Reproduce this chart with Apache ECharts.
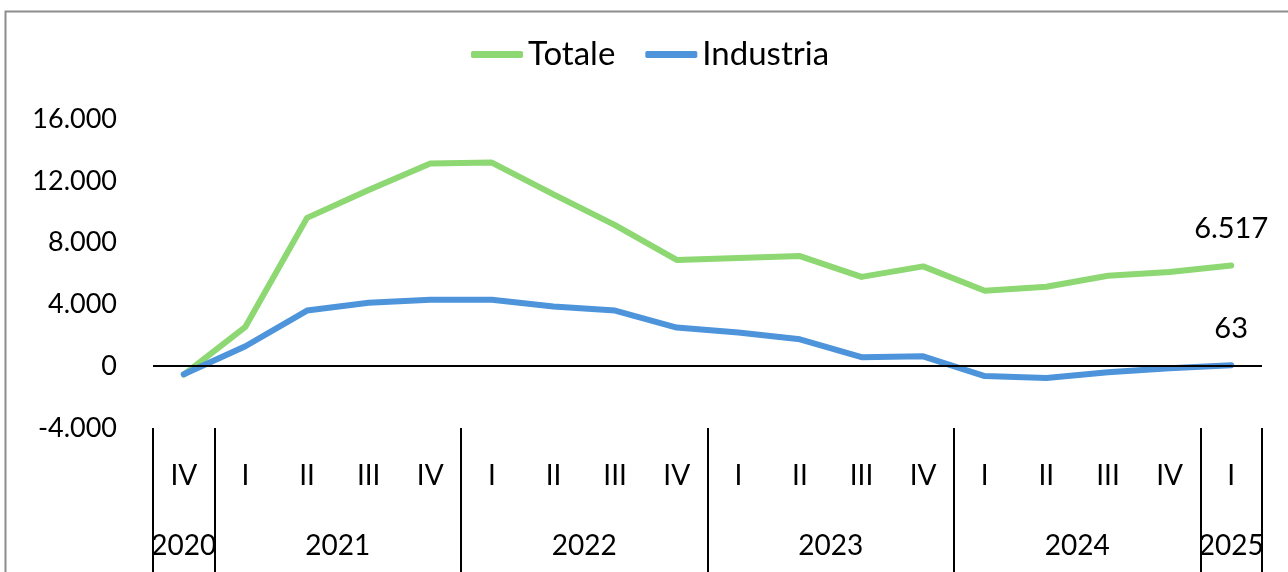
<!DOCTYPE html>
<html>
<head>
<meta charset="utf-8">
<script src="https://cdn.jsdelivr.net/npm/echarts@6/dist/echarts.min.js"></script>
<style>
html,body{margin:0;padding:0;background:#fff;}
#chart{width:1288px;height:572px;}
</style>
</head>
<body>
<div id="chart"></div>
<script>
// ---- data ----
var quarters = ['IV','I','II','III','IV','I','II','III','IV','I','II','III','IV','I','II','III','IV','I'];
var years = ['2020','2021','2022','2023','2024','2025'];
var quartersPerYear = [1,4,4,4,4,1];
var totale = [-550, 2550, 9600, 11400, 13120, 13180, 11120, 9130, 6880, 7000, 7130, 5780, 6460, 4880, 5140, 5850, 6100, 6517];
var industria = [-520, 1290, 3600, 4110, 4300, 4300, 3860, 3600, 2500, 2180, 1740, 580, 640, -640, -770, -390, -130, 63];
var yTicks = {min: -4000, max: 16000, interval: 4000};

function fmt(v){ return String(v).replace(/\B(?=(\d{3})+(?!\d))/g, '.'); }

// year axis built on half-quarter grid
var nHalf = quarters.length * 2;
var halfCats = [];
for (var i = 0; i <= nHalf; i++) halfCats.push(String(i));
var yearLabelAt = {};
var boundaries = [0];
var acc = 0;
for (var k = 0; k < years.length; k++) {
  yearLabelAt[acc * 2 + quartersPerYear[k]] = years[k];
  acc += quartersPerYear[k];
  boundaries.push(acc * 2);
}

function withEndLabel(arr){
  return arr.map(function(v, i){
    if (i === arr.length - 1) {
      return {value: v, symbolSize: 1, label: {show: true, position: 'top', distance: 22,
        formatter: function(p){ return fmt(p.value); },
        color: '#000', fontSize: 29, fontFamily: 'Lato'}};
    }
    return v;
  });
}

var chart = echarts.init(document.getElementById('chart'));
chart.setOption({
  animation: false,
  backgroundColor: '#fff',
  graphic: [{
    type: 'rect', left: 3, top: 9, silent: true,
    shape: {width: 1300, height: 580},
    style: {fill: 'none', stroke: '#8c8c8c', lineWidth: 2}
  }],
  legend: {
    left: 466, top: 33,
    itemWidth: 52, itemHeight: 7, itemGap: 30,
    icon: 'roundRect',
    textStyle: {fontSize: 33, fontFamily: 'Lato', color: '#000'},
    data: ['Totale', 'Industria']
  },
  grid: {left: 153, right: 26, top: 119, bottom: 144, containLabel: false},
  xAxis: [{
    type: 'category', position: 'bottom', offset: 0,
    data: quarters, boundaryGap: true,
    axisLine: {show: false, onZero: false},
    axisTick: {show: false},
    axisLabel: {margin: 34, fontSize: 28, fontFamily: 'Lato', color: '#000', interval: 0}
  }, {
    type: 'category', position: 'bottom', offset: 0,
    data: halfCats, boundaryGap: false,
    axisLine: {show: false, onZero: false},
    axisTick: {show: true, length: 146, lineStyle: {color: '#000', width: 2},
      interval: function(idx){ return boundaries.indexOf(idx) >= 0; }},
    axisLabel: {margin: 104, fontSize: 28, fontFamily: 'Lato', color: '#000',
      interval: function(idx){ return yearLabelAt[idx] !== undefined; },
      formatter: function(v, idx){ return yearLabelAt[idx] || ''; }},
    splitLine: {show: false}
  }],
  yAxis: {
    type: 'value', min: yTicks.min, max: yTicks.max, interval: yTicks.interval,
    axisLine: {show: false}, axisTick: {show: false}, splitLine: {show: false},
    axisLabel: {margin: 36, fontSize: 27, fontFamily: 'Lato', color: '#000', formatter: fmt}
  },
  series: [{
    type: 'line', name: 'zero', data: [], z: 1, silent: true,
    markLine: {
      silent: true, symbol: 'none', label: {show: false},
      lineStyle: {color: '#000', width: 2, type: 'solid'},
      data: [{yAxis: 0}]
    }
  }, {
    type: 'line', name: 'Totale', data: withEndLabel(totale), z: 3,
    symbol: 'circle', symbolSize: 0, showSymbol: true,
    itemStyle: {color: '#8dd872'},
    lineStyle: {color: '#8dd872', width: 6, cap: 'round', join: 'round'}
  }, {
    type: 'line', name: 'Industria', data: withEndLabel(industria), z: 4,
    symbol: 'circle', symbolSize: 0, showSymbol: true,
    itemStyle: {color: '#4d94db'},
    lineStyle: {color: '#4d94db', width: 6, cap: 'round', join: 'round'}
  }]
});
</script>
</body>
</html>
